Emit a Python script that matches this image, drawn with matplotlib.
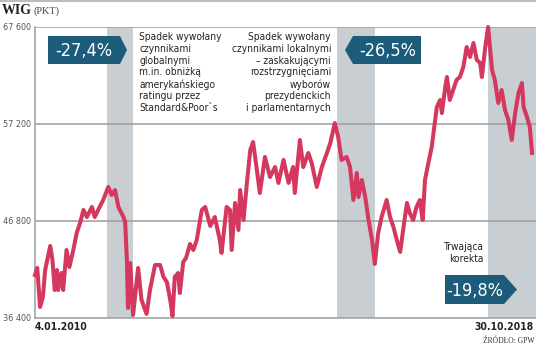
import numpy as np
import matplotlib.pyplot as plt
from matplotlib.patches import Polygon

# WIG w punktach; czas jako ulamek roku
lata = np.array([
    2010.01, 2010.05, 2010.10, 2010.15, 2010.19, 2010.28, 2010.32, 2010.36,
    2010.40, 2010.42, 2010.48, 2010.51, 2010.57, 2010.62, 2010.69, 2010.75,
    2010.81, 2010.87, 2010.93, 2011.02, 2011.07, 2011.13, 2011.22, 2011.31,
    2011.37, 2011.43, 2011.49, 2011.58, 2011.61, 2011.64, 2011.66, 2011.70,
    2011.75, 2011.84, 2011.90, 2011.99, 2012.05, 2012.14, 2012.23, 2012.29,
    2012.35, 2012.41, 2012.45, 2012.49, 2012.55, 2012.58, 2012.64, 2012.69,
    2012.76, 2012.82, 2012.88, 2012.97, 2013.03, 2013.12, 2013.20, 2013.29,
    2013.32, 2013.41, 2013.47, 2013.50, 2013.56, 2013.62, 2013.65, 2013.71,
    2013.77, 2013.83, 2013.88, 2013.94, 2014.00, 2014.09, 2014.18, 2014.27,
    2014.33, 2014.42, 2014.51, 2014.59, 2014.62, 2014.71, 2014.77, 2014.86,
    2014.92, 2015.01, 2015.10, 2015.19, 2015.25, 2015.33, 2015.39, 2015.45,
    2015.54, 2015.60, 2015.66, 2015.72, 2015.75, 2015.81, 2015.87, 2015.92,
    2015.99, 2016.04, 2016.10, 2016.16, 2016.25, 2016.31, 2016.37, 2016.43,
    2016.49, 2016.55, 2016.61, 2016.66, 2016.72, 2016.78, 2016.84, 2016.89,
    2016.93, 2016.99, 2017.05, 2017.11, 2017.14, 2017.20, 2017.23, 2017.29,
    2017.32, 2017.37, 2017.43, 2017.49, 2017.55, 2017.61, 2017.67, 2017.73,
    2017.79, 2017.85, 2017.91, 2017.94, 2018.00, 2018.05, 2018.12, 2018.17,
    2018.23, 2018.29, 2018.35, 2018.41, 2018.47, 2018.53, 2018.59, 2018.65,
    2018.68, 2018.74, 2018.79, 2018.83,
])
wig = np.array([
    40960, 41720, 37530, 38600, 41500, 44080, 42580, 39350,
    41500, 39350, 41180, 39350, 43650, 41820, 43650, 45480,
    46550, 47950, 47190, 48270, 47190, 47950, 49020, 50420,
    49560, 50090, 48270, 47190, 46660, 42580, 37420, 42250,
    36670, 41720, 38280, 36780, 39350, 42040, 42040, 40750,
    40210, 38280, 36560, 40750, 41180, 39030, 42360, 42790,
    44290, 43650, 44720, 47950, 48270, 46230, 47190, 44720,
    43330, 48270, 47950, 43650, 48700, 45800, 50090, 46870,
    50850, 54390, 55250, 52560, 49770, 53640, 51490, 52560,
    50850, 53320, 50850, 52560, 49770, 55460, 52560, 54070,
    52990, 50420, 52560, 54070, 55140, 57290, 55790, 53320,
    53640, 52560, 49020, 51920, 49340, 51170, 49340, 47190,
    44720, 42150, 45480, 47190, 49020, 47190, 46120, 44720,
    43440, 46120, 48700, 47620, 46870, 48270, 49020, 46870,
    51170, 52990, 54710, 57610, 59010, 59760, 58360, 61160,
    62230, 59760, 60830, 61910, 62230, 63300, 65450, 64380,
    65880, 64060, 63730, 62230, 65450, 67600, 62980, 61910,
    59440, 60830, 58690, 57610, 55460, 58360, 60510, 61590,
    59010, 57930, 56860, 54070,
])

# okresy spadkow (szare pasy)
spadki = [(2011.29, 2011.75), (2015.37, 2016.04), (2018.05, 2018.95)]

poziomy = [36400, 46800, 57200, 67600]
etykiety_y = ["36 400", "46 800", "57 200", "67 600"]

NARROW = dict(family="DejaVu Sans", stretch="condensed")
SERIF = ["Liberation Serif", "DejaVu Serif"]
CZERWONY = "#d4385e"
GRANAT = "#1d5b7b"
PAS = "#c9ced3"

W, H = 536, 347
fig = plt.figure(figsize=(W / 100, H / 100), dpi=100)
ax = fig.add_axes([35 / W, 1 - 317.5 / H, 1 - 35 / W, (317.5 - 27) / H])


def fx(px):
    return px / W


def fy(py):
    return 1 - py / H


for a, b in spadki:
    ax.axvspan(a, b, color=PAS, lw=0, zorder=1)
for p in poziomy[1:]:
    ax.axhline(p, color="#9c9c9c", lw=1.1, zorder=2)

ax.plot(lata, wig, color=CZERWONY, lw=2.9, solid_joinstyle="round",
        zorder=3, clip_on=False)

ax.set_xlim(2010.01, 2018.90)
ax.set_ylim(36400, 67600)
ax.set_yticks(poziomy)
ax.set_yticklabels(etykiety_y, fontsize=6.5, color="#555555", **NARROW)
ax.tick_params(axis="y", length=0, pad=3)
ax.set_xticks([])
for s in ["top", "right"]:
    ax.spines[s].set_visible(False)
for s in ["left", "bottom"]:
    ax.spines[s].set_color("#9c9c9c")
    ax.spines[s].set_linewidth(1.1)

# naglowek
fig.add_artist(plt.Line2D([0, 1], [fy(1), fy(1)], color="#bdbdbd", lw=1.5))
fig.text(fx(2), fy(11), "WIG", family=SERIF, fontsize=10, weight="bold",
         color="#222222", va="center")
fig.text(fx(34), fy(11), "(PKT)", family=SERIF, fontsize=7.5,
         color="#444444", va="center")

fig.text(fx(35), fy(327), "4.01.2010", fontsize=7.5,
         weight="bold", color="#222222", va="center", **NARROW)
fig.text(fx(534), fy(327), "30.10.2018", fontsize=7.5,
         weight="bold", color="#222222", va="center", ha="right", **NARROW)
fig.text(fx(535), fy(341), "ŹRÓDŁO: GPW", family=SERIF, fontsize=5.5,
         color="#333333", va="center", ha="right")


def strzalka(x0, x1, tip, y0, y1, tekst, w_lewo=False):
    ym = (y0 + y1) / 2
    if w_lewo:
        pts = [(x1, y0), (x1, y1), (x0, y1), (tip, ym), (x0, y0)]
        cx = (x0 + x1) / 2 + 1
    else:
        pts = [(x0, y0), (x1, y0), (tip, ym), (x1, y1), (x0, y1)]
        cx = (x0 + x1) / 2
    fig.add_artist(Polygon([(fx(a), fy(b)) for a, b in pts], closed=True,
                           facecolor=GRANAT, edgecolor="none"))
    fig.text(fx(cx), fy(ym + 1), tekst, fontsize=13,
             color="white", ha="center", va="center", **NARROW)


strzalka(48, 120, 127, 36, 64, "-27,4%")
strzalka(353, 421, 345, 36, 64, "-26,5%", w_lewo=True)
strzalka(445, 504, 517, 275, 304, "-19,8%")

opis = dict(fontsize=7.3, color="#222222", va="top", linespacing=1.22,
            **NARROW)
fig.text(fx(139), fy(32), "Spadek wywołany\nczynnikami\nglobalnymi\n"
         "m.in. obniżką\namerykańskiego\nratingu przez\nStandard&Poor`s",
         ha="left", **opis)
fig.text(fx(331), fy(32), "Spadek wywołany\nczynnikami lokalnymi\n"
         "– zaskakującymi\nrozstrzygnięciami\nwyborów\nprezydenckich\n"
         "i parlamentarnych", ha="right", **opis)
fig.text(fx(484), fy(242), "Trwająca\nkorekta", ha="right", **opis)

fig.savefig("out.png", dpi=100)
